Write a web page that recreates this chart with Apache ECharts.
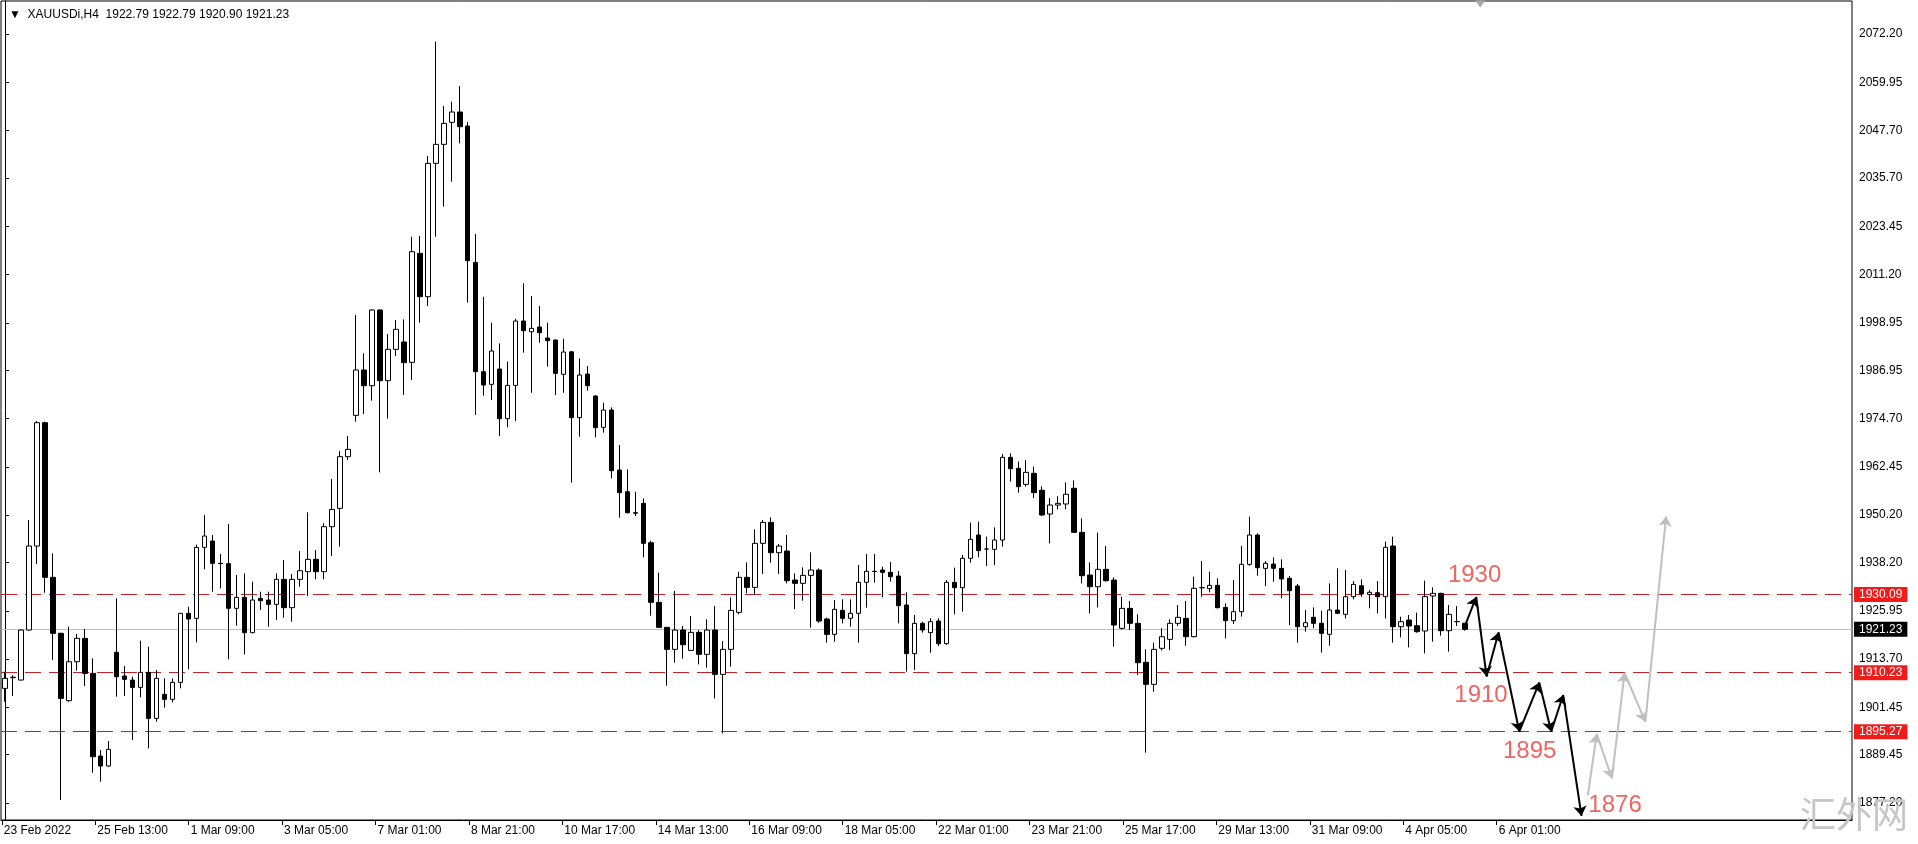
<!DOCTYPE html>
<html><head><meta charset="utf-8">
<script src="https://cdn.jsdelivr.net/npm/echarts@6/dist/echarts.min.js"></script>
<style>html,body{margin:0;padding:0;background:#fff}#c{width:1918px;height:844px}</style>
</head><body><div id="c"></div>
<script>
const symbolName = 'XAUUSDi,H4';
const open = [1906.27,1908.98,1908.38,1921.06,1942.36,1973.64,1934.42,1920.22,1903.14,1913.03,1918.95,1910.07,1889.1,1886.58,1915.4,1909.4,1908.38,1906.52,1910.33,1898.66,1904.75,1903.48,1907.79,1925.29,1924.02,1942.02,1943.63,1937.97,1937.9,1926.56,1929.35,1920.39,1929.1,1928.67,1927.57,1933.91,1926.73,1933.91,1935.86,1938.99,1935.86,1947.27,1951.92,1965.02,1975.5,1987.0,1983.02,2002.21,1984.29,1992.24,1994.1,1988.94,2016.58,2005.59,2039.4,2044.22,2049.8,2052.42,2048.87,2014.29,1986.57,1983.36,1987.25,1974.65,1983.1,1999.42,1996.71,1997.9,1995.11,1994.6,1985.9,1991.6,1974.91,1985.98,1980.4,1972.45,1976.85,1961.64,1956.14,1950.81,1953.18,1943.2,1928.08,1921.74,1916.16,1921.06,1915.9,1920.47,1914.89,1921.06,1909.82,1916.16,1925.54,1934.42,1931.88,1943.04,1948.36,1940.67,1941.09,1933.74,1932.9,1934.92,1936.28,1923.85,1919.97,1926.06,1924.03,1925.3,1933.16,1935.9,1936.28,1935.69,1934.76,1927.4,1915.07,1922.76,1920.4,1923.35,1917.6,1933.16,1931.8,1939.24,1945.16,1941.6,1941.52,1943.89,1964.85,1962.07,1958.0,1960.8,1956.5,1950.48,1952.76,1953.02,1957.0,1945.83,1935.01,1932.05,1936.45,1933.74,1921.49,1926.56,1922.76,1912.87,1907.29,1916.42,1918.7,1922.76,1924.02,1919.37,1931.8,1931.55,1932.39,1926.81,1923.43,1925.72,1937.72,1945.15,1936.7,1937.8,1936.7,1934.17,1932.22,1921.91,1924.28,1922.76,1919.97,1926.14,1925.04,1929.52,1932.3,1930.1,1930.53,1929.52,1942.37,1921.91,1923.6,1922.16,1920.81,1929.69,1930.36,1920.9,1923.2,1922.79];
const high = [1910.5,1909.6,1921.2,1948.96,1974.06,1973.9,1940.5,1920.4,1921.91,1920.05,1921.32,1913.88,1890.63,1892.91,1929.09,1911.93,1909.23,1918.36,1916.84,1910.92,1908.81,1908.81,1925.4,1926.98,1942.7,1950.22,1945.15,1940.34,1947.94,1935.01,1935.43,1933.32,1930.79,1930.79,1935.43,1938.82,1935.26,1941.1,1950.9,1941.35,1948.11,1959.36,1966.46,1970.26,2000.94,1991.22,2002.38,2002.38,1996.12,1999.68,1999.84,2020.8,2020.97,2041.26,2070.25,2053.94,2055.04,2059.01,2049.88,2021.48,2005.59,1999.0,1993.75,1989.11,2000.01,2008.97,2005.76,2003.22,1999.0,1994.7,1994.94,1991.8,1989.95,1988.0,1980.6,1978.71,1977.53,1967.97,1961.8,1956.14,1954.45,1943.72,1935.6,1921.8,1930.95,1922.07,1924.61,1921.06,1923.77,1927.15,1918.27,1929.34,1935.85,1938.22,1946.59,1948.95,1949.63,1942.87,1945.15,1935.43,1936.95,1940.76,1936.7,1924.2,1928.68,1928.85,1928.85,1937.55,1940.34,1940.34,1937.13,1938.31,1936.03,1930.62,1924.87,1923.18,1924.03,1924.03,1933.75,1936.88,1940.09,1948.29,1948.54,1944.74,1947.1,1965.7,1965.87,1963.76,1964.18,1962.5,1957.5,1954.5,1955.0,1958.5,1959.0,1949.38,1938.22,1945.75,1942.37,1934.42,1929.52,1928.42,1925.04,1916.16,1917.85,1921.49,1923.77,1927.4,1928.42,1934.59,1938.56,1935.86,1934.17,1927.83,1933.74,1942.37,1949.8,1945.58,1938.56,1939.49,1938.98,1934.76,1932.73,1926.14,1926.81,1925.97,1932.9,1936.7,1936.28,1933.49,1933.92,1931.21,1933.49,1943.47,1944.73,1924.45,1924.87,1925.46,1933.58,1931.88,1930.53,1927.4,1927.15,1922.79];
const low = [1902.89,1904.33,1908.3,1920.9,1937.8,1930.53,1913.45,1877.95,1902.9,1910.75,1906.86,1884.88,1882.6,1886.4,1904.16,1904.33,1893.17,1903.99,1891.06,1897.82,1901.37,1902.72,1906.27,1911.09,1917.93,1936.45,1930.78,1931.63,1913.63,1922.16,1914.9,1920.22,1926.14,1921.91,1923.6,1924.19,1923.18,1932.05,1929.69,1933.91,1933.91,1939.83,1942.2,1964.17,1973.89,1975.84,1979.22,1961.05,1974.66,1990.55,1980.66,1984.46,1999.0,2003.22,2020.8,2028.41,2034.75,2044.47,2004.07,1975.58,1980.48,1979.39,1970.26,1972.45,1974.06,1991.39,1981.24,1993.92,1987.84,1980.65,1981.24,1958.42,1970.09,1981.75,1969.92,1971.1,1959.52,1949.55,1950.64,1949.97,1939.49,1924.7,1921.6,1906.94,1912.78,1913.79,1915.8,1912.35,1911.51,1903.73,1894.86,1911.76,1925.04,1930.36,1929.94,1935.26,1938.14,1935.26,1932.9,1926.39,1928.5,1921.65,1922.92,1917.85,1918.1,1922.76,1921.91,1917.86,1926.73,1933.07,1929.35,1933.33,1922.76,1910.5,1910.93,1920.4,1915.32,1917.01,1917.3,1925.04,1925.72,1938.14,1939.5,1937.3,1937.55,1942.2,1958.68,1955.9,1957.42,1954.5,1949.97,1943.04,1951.66,1951.66,1945.7,1932.9,1925.29,1926.81,1933.32,1916.84,1921.23,1921.06,1909.65,1889.96,1905.43,1915.82,1916.0,1922.08,1917.09,1919.2,1929.52,1930.62,1926.56,1918.95,1922.59,1924.45,1937.38,1934.84,1932.22,1933.32,1929.1,1922.33,1917.85,1920.64,1921.49,1915.32,1917.09,1925.2,1924.02,1928.85,1929.52,1926.56,1925.29,1924.02,1917.85,1919.2,1916.67,1920.39,1915.15,1918.1,1919.63,1915.57,1922.08,1920.9];
const close = [1908.81,1909.1,1921.06,1942.36,1973.64,1934.42,1920.22,1903.73,1913.03,1918.95,1910.07,1888.94,1886.58,1890.8,1909.23,1908.55,1906.52,1910.33,1898.66,1908.81,1903.48,1907.79,1925.29,1923.85,1942.02,1944.9,1937.97,1937.9,1926.56,1929.35,1920.39,1928.67,1928.5,1927.57,1933.91,1926.73,1933.91,1936.11,1938.99,1935.86,1947.27,1951.66,1965.02,1966.88,1987.0,1983.02,2002.21,1984.29,1992.24,1997.31,1988.86,2017.0,2005.59,2039.4,2044.22,2049.54,2052.42,2048.7,2014.72,1986.57,1983.19,1991.81,1974.65,1983.1,1999.42,1996.97,1997.56,1996.46,1994.43,1986.15,1991.56,1974.91,1985.72,1983.02,1972.37,1976.85,1961.47,1955.89,1950.81,1950.7,1943.04,1928.08,1921.74,1916.16,1921.06,1917.34,1920.47,1914.89,1921.06,1909.82,1916.16,1926.05,1934.42,1931.88,1943.04,1948.36,1940.67,1942.36,1933.57,1932.9,1934.92,1936.28,1923.34,1919.96,1926.31,1924.03,1925.3,1933.16,1935.95,1935.95,1935.69,1934.59,1927.24,1915.07,1922.76,1921.07,1923.18,1917.6,1933.16,1931.8,1939.24,1944.06,1941.19,1941.6,1943.89,1964.85,1961.98,1957.42,1961.05,1955.9,1950.23,1952.76,1953.18,1955.5,1945.83,1934.84,1932.05,1936.45,1933.57,1922.33,1926.56,1922.76,1912.78,1907.29,1916.16,1919.37,1922.76,1924.28,1919.37,1931.63,1931.8,1932.39,1926.73,1923.43,1925.72,1937.72,1945.15,1936.87,1937.97,1936.7,1934.0,1931.04,1921.91,1922.92,1922.76,1920.22,1926.14,1925.29,1929.52,1932.64,1930.2,1930.62,1929.52,1942.03,1921.91,1923.18,1922.08,1920.64,1929.52,1930.36,1920.9,1925.04,1923.2,1921.23];
const tickLabels = ['23 Feb 2022','25 Feb 13:00','1 Mar 09:00','3 Mar 05:00','7 Mar 01:00','8 Mar 21:00','10 Mar 17:00','14 Mar 13:00','16 Mar 09:00','18 Mar 05:00','22 Mar 01:00','23 Mar 21:00','25 Mar 17:00','29 Mar 13:00','31 Mar 09:00','4 Apr 05:00','6 Apr 01:00'];
const labelSpacingBars = 11.71;
const totalSlots = 232;
const priceTicks = [2072.20,2059.95,2047.70,2035.70,2023.45,2011.20,1998.95,1986.95,1974.70,1962.45,1950.20,1938.20,1925.95,1913.70,1901.45,1889.45,1877.20];
const priceMin = 1872.89, priceMax = 2080.57;
const levels = [1930.09, 1910.23, 1895.27];
const bidPrice = 1921.23;
const shiftMarkerBar = 184.9;
const downPathX = [182.9,184.4,185.7,187.2,189.8,192.3,193.8,195.3,197.6];
const downPathY = [1921.7,1929.44,1909.3,1920.46,1895.33,1907.75,1895.33,1904.6,1873.9];
const upPathX = [198.4,199.5,201.4,203.0,205.6,208.2];
const upPathY = [1879.2,1894.7,1883.5,1910.2,1897.8,1949.9];
const targetTexts = ['1930','1910','1895','1876'];
const targetX = [184.2,185.0,191.1,201.8];
const targetY = [1934.8,1904.6,1890.4,1876.7];

const FONT = 'Liberation Sans';
const chart = echarts.init(document.getElementById('c'));
const cats = Array.from({length: totalSlots}, (_, i) => String(i));
const candleData = open.map((o, i) => [o, close[i], low[i], high[i]]);
const tickPos = tickLabels.map((t, k) => k * labelSpacingBars - 0.4);
const labelFor = v => tickLabels[Math.round((v + 0.4) / labelSpacingBars)];
const last = a => a[a.length - 1].toFixed(2);
function segs(xs, ys) {
  const out = [];
  for (let k = 0; k < xs.length - 1; k++) out.push([{coord: [xs[k], ys[k]]}, {coord: [xs[k + 1], ys[k + 1]]}]);
  return out;
}
const boxLabel = (bg) => ({show: true, position: 'end', distance: 2, formatter: p => p.value.toFixed(2),
  backgroundColor: bg, color: '#fff', padding: [2, 5, 1, 5], fontFamily: FONT, fontSize: 12});

chart.setOption({
  animation: false,
  backgroundColor: '#fff',
  title: {text: '\u25BC  ' + symbolName + '  ' + [last(open), last(high), last(low), last(close)].join(' '),
    left: 4, top: 4, textStyle: {fontFamily: FONT, fontSize: 12, fontWeight: 'normal', color: '#000'}},
  grid: {left: 1, top: 1, width: 1851, height: 819, show: true, borderColor: '#000', borderWidth: 1, backgroundColor: '#fff'},
  xAxis: [{
    type: 'category', data: cats, boundaryGap: true, position: 'bottom',
    axisLine: {show: true, lineStyle: {color: '#000'}},
    axisTick: {show: false}, axisLabel: {show: false}, splitLine: {show: false}
  }, {
    type: 'value', min: -0.5, max: totalSlots - 0.5, position: 'bottom', offset: 0,
    axisLine: {show: false},
    axisTick: {show: true, customValues: tickPos, length: 5, lineStyle: {color: '#000'}},
    axisLabel: {show: true, customValues: tickPos, formatter: v => labelFor(v),
      align: 'left', margin: 5, padding: [0, 0, 0, 2], fontFamily: FONT, fontSize: 12, color: '#000'},
    splitLine: {show: false}
  }],
  yAxis: {
    type: 'value', position: 'right', min: priceMin, max: priceMax,
    axisLine: {show: true, lineStyle: {color: '#000'}},
    axisTick: {show: true, customValues: priceTicks, length: 4, lineStyle: {color: '#000'}},
    axisLabel: {customValues: priceTicks, formatter: v => v.toFixed(2), fontFamily: FONT, fontSize: 12, color: '#000', margin: 7},
    splitLine: {show: false}
  },
  graphic: [{type: 'text', right: 10, bottom: 12, z: 100,
    style: {text: '\u6C47\u5916\u7F51', font: '36px "Noto Sans CJK SC"', fill: '#c6c6c6'}}],
  series: [
    {
      type: 'candlestick', data: candleData, barWidth: 5,
      itemStyle: {color: '#ffffff', color0: '#000000', borderColor: '#000', borderColor0: '#000', borderWidth: 1},
      markLine: {
        silent: true, symbol: ['none', 'none'], animation: false, z: 1,
        data: levels.map(v => ({yAxis: v, lineStyle: {color: '#c81e28', type: [16, 8], width: 1}, label: boxLabel('#f01c1c')}))
          .concat([{yAxis: bidPrice, lineStyle: {color: '#c0c0c0', type: 'solid', width: 1}, label: boxLabel('#000')}])
      }
    },
    {
      type: 'line', xAxisIndex: 1, yAxisIndex: 0, data: downPathX.map((x, i) => [x, downPathY[i]]),
      showSymbol: false, lineStyle: {width: 0, opacity: 0}, silent: true,
      markLine: {silent: true, symbol: ['none', 'arrow'], symbolSize: 10, animation: false,
        lineStyle: {color: '#000', width: 2, type: 'solid'}, label: {show: false}, data: segs(downPathX, downPathY)},
      markPoint: {silent: true, symbol: 'triangle', symbolRotate: 180, symbolSize: [10, 7], symbolOffset: [0, 3],
        itemStyle: {color: '#a8a8a8'}, label: {show: false}, data: [{coord: [shiftMarkerBar, priceMax]}]}
    },
    {
      type: 'line', xAxisIndex: 1, yAxisIndex: 0, data: upPathX.map((x, i) => [x, upPathY[i]]),
      showSymbol: false, lineStyle: {width: 0, opacity: 0}, silent: true,
      markLine: {silent: true, symbol: ['none', 'arrow'], symbolSize: 10, animation: false,
        lineStyle: {color: '#c0c0c0', width: 2, type: 'solid'}, label: {show: false}, data: segs(upPathX, upPathY)}
    },
    {
      type: 'scatter', xAxisIndex: 1, yAxisIndex: 0, symbolSize: 0, silent: true,
      data: targetX.map((x, i) => [x, targetY[i], targetTexts[i]]),
      label: {show: true, position: 'inside', formatter: p => p.data[2], color: '#e8403c', fontSize: 24, fontFamily: FONT}
    }
  ]
});
</script>
</body></html>
